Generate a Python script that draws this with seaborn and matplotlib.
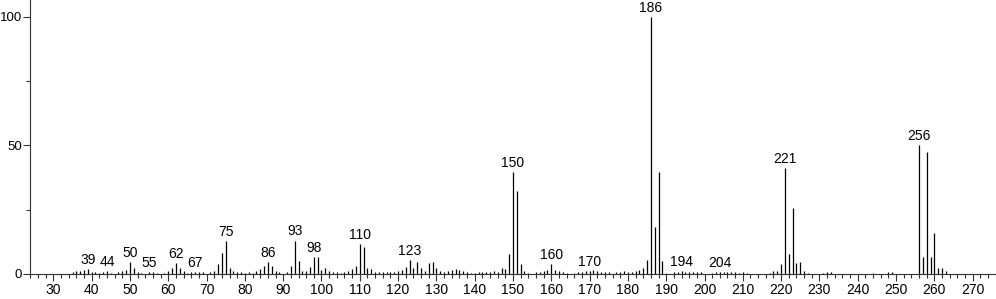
import matplotlib
matplotlib.use("Agg")
import matplotlib.pyplot as plt
from matplotlib.ticker import MultipleLocator
import seaborn as sns
import pandas as pd

# m/z values and relative intensities (%)
mz = [35, 36, 37, 38, 39, 40, 41, 42, 43, 44, 45, 47, 48, 49, 50, 51, 52, 53, 55, 56,
      57, 59, 60, 61, 62, 63, 64, 65, 66, 67, 68, 69, 71, 72, 73, 74, 75, 76, 77, 78,
      79, 80, 81, 82, 83, 84, 85, 86, 87, 88, 89, 91, 92, 93, 94, 95, 96, 97, 98, 99,
      100, 101, 102, 103, 104, 105, 106, 107, 108, 109, 110, 111, 112, 113, 114, 115, 116, 117, 118, 119,
      120, 121, 122, 123, 124, 125, 126, 127, 128, 129, 130, 131, 132, 133, 134, 135, 136, 137, 138, 139,
      140, 141, 142, 143, 144, 145, 146, 147, 148, 149, 150, 151, 152, 153, 154, 156, 157, 158, 159, 160,
      161, 162, 163, 164, 166, 167, 168, 169, 170, 171, 172, 173, 174, 175, 177, 178, 179, 180, 181, 182,
      183, 184, 185, 186, 187, 188, 189, 190, 192, 193, 194, 195, 196, 197, 198, 199, 202, 203, 204, 205,
      206, 207, 208, 209, 210, 211, 217, 218, 219, 220, 221, 222, 223, 224, 225, 226, 227, 231, 232, 233,
      244, 248, 249, 256, 257, 258, 259, 260, 261, 262, 263]
intensity = [0.8, 1.0, 1.2, 1.5, 1.9, 0.8, 0.6, 0.5, 0.8, 1.0, 0.5, 0.6, 1.0, 1.6, 4.7, 2.5, 0.8, 0.5, 0.9, 0.8,
             0.5, 0.5, 1.2, 2.2, 4.1, 2.2, 1.0, 0.5, 0.6, 0.9, 0.6, 0.8, 0.8, 1.0, 3.8, 8.3, 12.8, 2.2, 1.0, 0.6,
             0.8, 0.5, 0.6, 0.5, 1.0, 2.0, 3.1, 4.5, 3.0, 1.0, 0.6, 0.8, 3.1, 13.0, 5.2, 1.0, 1.0, 2.8, 6.7, 6.7,
             1.5, 2.2, 1.0, 0.6, 0.6, 0.5, 0.6, 1.0, 2.0, 3.0, 11.7, 10.6, 2.3, 2.0, 0.8, 0.8, 0.6, 0.6, 0.8, 0.6,
             1.0, 1.5, 2.6, 5.4, 2.3, 4.5, 2.3, 1.0, 4.1, 4.5, 2.3, 1.0, 0.6, 1.0, 1.5, 2.0, 1.6, 1.0, 0.8, 0.5,
             0.5, 0.8, 0.8, 0.8, 0.8, 1.0, 0.8, 2.5, 2.0, 7.8, 39.8, 32.4, 3.8, 1.0, 0.5, 0.8, 0.8, 1.0, 1.6, 3.8,
             1.5, 1.3, 0.8, 0.5, 0.5, 0.8, 0.8, 1.0, 1.2, 1.5, 1.2, 0.8, 0.8, 0.6, 0.6, 0.8, 1.0, 0.8, 0.8, 1.0,
             1.5, 2.3, 5.4, 100.0, 18.2, 39.8, 5.2, 0.5, 0.6, 0.8, 1.2, 0.8, 0.8, 0.6, 0.8, 0.6, 0.5, 0.6, 0.8, 0.8,
             0.6, 0.8, 0.6, 0.5, 0.6, 0.5, 0.5, 1.0, 1.0, 4.0, 41.1, 7.7, 25.6, 4.2, 4.5, 1.0, 0.5, 0.5, 0.8, 0.6,
             0.5, 0.6, 0.8, 50.2, 6.7, 47.6, 6.7, 15.8, 2.5, 2.2, 1.0]

labeled_mz = [39, 44, 50, 55, 62, 67, 75, 86, 93, 98, 110, 123, 150, 160, 170, 186, 194, 204, 221, 256]

df = pd.DataFrame({"mz": mz, "intensity": intensity})

sns.set_theme(style="ticks")
plt.rcParams["font.family"] = ["Liberation Sans", "DejaVu Sans"]

fig = plt.figure(figsize=(9.96, 2.99), dpi=100)
ax = fig.add_axes([30 / 996, 25 / 299, 966 / 996, 274 / 299])

ax.vlines(df["mz"], 0, df["intensity"], colors="black", linewidth=0.9)
sns.despine(ax=ax)

lookup = dict(zip(mz, intensity))
for m in labeled_mz:
    ax.annotate(str(m), xy=(m, lookup.get(m, 0)), xytext=(0, 1.5), textcoords="offset points",
                ha="center", va="bottom", fontsize=10, color="black")

ax.set_xlim(23.9, 276.1)
ax.set_ylim(0, 106.5)
ax.xaxis.set_major_locator(MultipleLocator(10))
ax.xaxis.set_minor_locator(MultipleLocator(2))
ax.yaxis.set_major_locator(MultipleLocator(50))
ax.yaxis.set_minor_locator(MultipleLocator(25))
ax.tick_params(axis="x", which="major", direction="out", length=5, width=0.8,
               color="#333333", labelsize=10, labelcolor="black", pad=1.5)
ax.tick_params(axis="y", which="major", direction="out", length=5, width=0.8,
               color="#333333", labelsize=9.5, labelcolor="black", pad=0.5)
ax.tick_params(axis="both", which="minor", direction="out", length=3, width=0.8, color="#333333")
for s in ["left", "bottom"]:
    ax.spines[s].set_color("#333333")
    ax.spines[s].set_linewidth(0.8)
ax.set_xlabel("")
ax.set_ylabel("")

fig.savefig("out.png", dpi=100)
